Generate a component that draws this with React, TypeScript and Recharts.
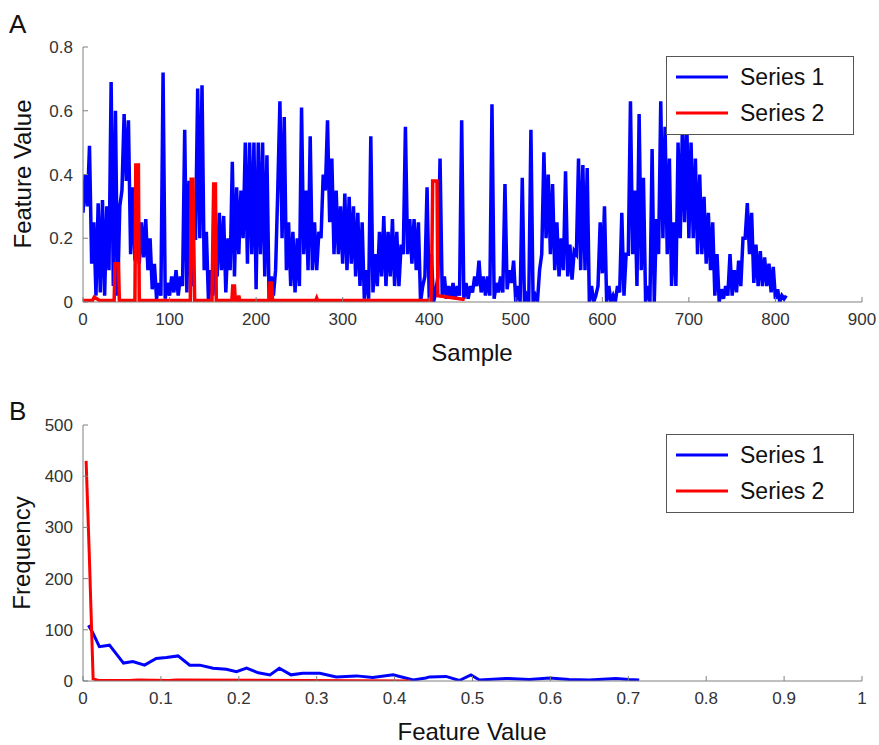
import React from 'react'
import { LineChart, Line, XAxis, YAxis } from 'recharts'

const FONT = '"Liberation Sans", Arial, sans-serif'
const BLUE = '#0000ff'
const RED = '#ff0000'
const AXIS_GREY = '#808080'

// Panel A: series 1 is very dense, so it is read as a low/high band per 5-sample bin
const binSize = 5
const series1Low = [
  0.28, 0.30, 0.12, 0.02, 0.03, 0.02, 0.10, 0.05, 0.02, 0.35, 0.38, 0.15, 0.13, 0.12, 0.14, 0.10,
  0.04, 0.01, 0.02, 0.01, 0.02, 0.03, 0.02, 0.05, 0.03, 0.05, 0.20, 0.20, 0.10, 0.00, 0.02, 0.08,
  0.10, 0.03, 0.10, 0.08, 0.15, 0.20, 0.12, 0.15, 0.04, 0.15, 0.08, 0.01, 0.02, 0.35, 0.20, 0.10,
  0.05, 0.03, 0.05, 0.15, 0.10, 0.10, 0.10, 0.20, 0.35, 0.25, 0.15, 0.15, 0.12, 0.10, 0.12, 0.08,
  0.05, 0.01, 0.01, 0.03, 0.05, 0.08, 0.05, 0.08, 0.05, 0.05, 0.15, 0.15, 0.12, 0.10, 0.00, 0.08,
  0.01, 0.00, 0.08, 0.02, 0.01, 0.01, 0.01, 0.02, 0.01, 0.01, 0.03, 0.05, 0.03, 0.02, 0.02, 0.01,
  0.03, 0.03, 0.04, 0.06, 0.00, 0.00, 0.00, 0.00, 0.00, 0.00, 0.15, 0.20, 0.15, 0.10, 0.08, 0.10,
  0.08, 0.07, 0.15, 0.10, 0.10, 0.00, 0.00, 0.05, 0.09, 0.00, 0.00, 0.00, 0.03, 0.02, 0.15, 0.15,
  0.05, 0.10, 0.00, 0.00, 0.00, 0.15, 0.20, 0.15, 0.05, 0.05, 0.20, 0.25, 0.20, 0.20, 0.15, 0.15,
  0.12, 0.10, 0.02, 0.00, 0.01, 0.02, 0.02, 0.03, 0.05, 0.20, 0.15, 0.06, 0.05, 0.05, 0.05, 0.03,
  0.01, 0.00, 0.01,
]
const series1High = [
  0.40, 0.49, 0.25, 0.31, 0.32, 0.30, 0.69, 0.60, 0.30, 0.59, 0.57, 0.36, 0.22, 0.25, 0.26, 0.20,
  0.12, 0.06, 0.72, 0.06, 0.08, 0.10, 0.08, 0.54, 0.38, 0.20, 0.67, 0.68, 0.22, 0.10, 0.15, 0.28,
  0.27, 0.20, 0.44, 0.36, 0.35, 0.50, 0.50, 0.50, 0.50, 0.50, 0.46, 0.08, 0.10, 0.63, 0.58, 0.25,
  0.22, 0.20, 0.61, 0.35, 0.52, 0.25, 0.22, 0.40, 0.57, 0.45, 0.35, 0.30, 0.34, 0.33, 0.30, 0.28,
  0.25, 0.10, 0.52, 0.15, 0.22, 0.27, 0.22, 0.26, 0.22, 0.18, 0.55, 0.26, 0.26, 0.25, 0.05, 0.36,
  0.15, 0.03, 0.45, 0.08, 0.05, 0.06, 0.05, 0.57, 0.06, 0.05, 0.08, 0.13, 0.08, 0.08, 0.62, 0.06,
  0.08, 0.37, 0.10, 0.13, 0.05, 0.39, 0.02, 0.54, 0.02, 0.10, 0.47, 0.40, 0.37, 0.25, 0.20, 0.41,
  0.18, 0.16, 0.45, 0.43, 0.42, 0.05, 0.02, 0.25, 0.30, 0.05, 0.02, 0.05, 0.28, 0.15, 0.63, 0.35,
  0.59, 0.39, 0.05, 0.48, 0.26, 0.63, 0.55, 0.45, 0.25, 0.50, 0.55, 0.58, 0.50, 0.45, 0.40, 0.33,
  0.28, 0.25, 0.15, 0.04, 0.05, 0.15, 0.10, 0.13, 0.20, 0.31, 0.28, 0.18, 0.16, 0.14, 0.12, 0.11,
  0.04, 0.02, 0.02,
]
const series2Samples = [
  0, 11, 13, 16, 19, 36, 37, 41, 42, 60, 61, 64, 65, 124, 125, 127, 128, 129, 149, 150, 151, 153,
  154, 172, 173, 175, 176, 179, 180, 181, 215, 216, 218, 219, 269, 270, 271, 402, 403, 404, 409, 410, 441,
]
const series2Values = [
  0.005, 0.005, 0.015, 0.01, 0.005, 0.005, 0.12, 0.12, 0.005, 0.005, 0.43, 0.43, 0.005, 0.005, 0.385,
  0.385, 0.18, 0.005, 0.005, 0.2, 0.37, 0.37, 0.005, 0.005, 0.05, 0.05, 0.005, 0.005, 0.02, 0.005,
  0.005, 0.06, 0.06, 0.005, 0.005, 0.012, 0.005, 0.005, 0.12, 0.38, 0.38, 0.02, 0.008,
]
const sampleTicks = [0, 100, 200, 300, 400, 500, 600, 700, 800, 900]
const featureTicks = [0, 0.2, 0.4, 0.6, 0.8]

// Panel B: frequency of feature values
const hist1Bins = [
  0.007, 0.013, 0.021, 0.034, 0.052, 0.064, 0.079, 0.094, 0.107, 0.122, 0.137, 0.15, 0.167, 0.184,
  0.197, 0.21, 0.225, 0.24, 0.252, 0.267, 0.282, 0.304, 0.325, 0.351, 0.372, 0.398, 0.424, 0.44,
  0.445, 0.466, 0.483, 0.498, 0.509, 0.543, 0.573, 0.599, 0.624, 0.65, 0.684, 0.701, 0.714,
]
const hist1Counts = [
  109, 93, 67, 70, 35, 38, 31, 44, 46, 49, 31, 31, 25, 23, 18, 25, 16, 12, 25, 12, 15, 15, 8, 10, 7,
  12, 2, 6, 8, 9, 1, 12, 2, 5, 3, 6, 3, 2, 5, 3, 2,
]
const hist2Bins = [0.004, 0.008, 0.013, 0.02, 0.06, 0.07, 0.11, 0.12, 0.42]
const hist2Counts = [430, 250, 4, 1, 1, 2, 1, 2, 0]
const valueTicks = [0, 0.1, 0.2, 0.3, 0.4, 0.5, 0.6, 0.7, 0.8, 0.9, 1]
const freqTicks = [0, 100, 200, 300, 400, 500]

// each bin becomes a low point then a high point, so dense stretches fill in like the original trace
const seriesA1 = series1Low.flatMap((lo, i) => [
  { x: i * binSize, y: lo },
  { x: i * binSize + binSize / 2, y: series1High[i] },
])
const seriesA2 = series2Samples.map((x, i) => ({ x, y: series2Values[i] }))
const seriesB1 = hist1Bins.map((x, i) => ({ x, y: hist1Counts[i] }))
const seriesB2 = hist2Bins.map((x, i) => ({ x, y: hist2Counts[i] }))

const tickStyle = { fill: '#333', fontSize: 17, fontFamily: FONT }
const axisProps = {
  axisLine: { stroke: AXIS_GREY, strokeWidth: 1 },
  tickLine: { stroke: AXIS_GREY },
  tick: tickStyle,
  tickSize: -5,
  interval: 0 as const,
}

function LegendBox({ top }: { top: number }) {
  return (
    <div style={{ position: 'absolute', left: 666, top, width: 188, height: 79, boxSizing: 'border-box', border: '1.5px solid #555', background: '#fff' }}>
      <svg width={185} height={76} style={{ display: 'block' }}>
        <line x1={9} x2={61} y1={20} y2={20} stroke={BLUE} strokeWidth={3} />
        <text x={73} y={28} fontSize={23} fontFamily={FONT} fill="#111">Series 1</text>
        <line x1={9} x2={61} y1={56} y2={56} stroke={RED} strokeWidth={3} />
        <text x={73} y={64} fontSize={23} fontFamily={FONT} fill="#111">Series 2</text>
      </svg>
    </div>
  )
}

export default function App() {
  return (
    <div style={{ position: 'absolute', left: 0, top: 0, width: 879, height: 745, background: '#fff', fontFamily: FONT }}>
      <div style={{ position: 'absolute', left: 0, top: 0 }}>
        <LineChart width={879} height={372} margin={{ top: 47, right: 17, bottom: 40, left: 23 }}>
          <XAxis type="number" dataKey="x" domain={[0, 900]} ticks={sampleTicks} allowDataOverflow height={30} tickMargin={16} {...axisProps} />
          <YAxis type="number" dataKey="y" domain={[0, 0.8]} ticks={featureTicks} allowDataOverflow width={60} tickMargin={15} {...axisProps} />
          <Line data={seriesA1} dataKey="y" type="linear" stroke={BLUE} strokeWidth={3.5} strokeLinejoin="miter" dot={false} isAnimationActive={false} />
          <Line data={seriesA2} dataKey="y" type="linear" stroke={RED} strokeWidth={3.5} dot={false} isAnimationActive={false} />
        </LineChart>
      </div>
      <div style={{ position: 'absolute', left: 0, top: 380 }}>
        <LineChart width={879} height={365} margin={{ top: 45, right: 17, bottom: 34, left: 23 }}>
          <XAxis type="number" dataKey="x" domain={[0, 1]} ticks={valueTicks} allowDataOverflow height={30} tickMargin={16} {...axisProps} />
          <YAxis type="number" dataKey="y" domain={[0, 500]} ticks={freqTicks} allowDataOverflow width={60} tickMargin={15} {...axisProps} />
          <Line data={seriesB1} dataKey="y" type="linear" stroke={BLUE} strokeWidth={3} dot={false} isAnimationActive={false} />
          <Line data={seriesB2} dataKey="y" type="linear" stroke={RED} strokeWidth={3} dot={false} isAnimationActive={false} />
        </LineChart>
      </div>
      <svg width={879} height={745} style={{ position: 'absolute', left: 0, top: 0, pointerEvents: 'none' }}>
        <g fontFamily={FONT} fill="#111">
          <text x={9} y={33} fontSize={26}>A</text>
          <text x={9} y={420} fontSize={26}>B</text>
          <text x={472} y={361} fontSize={24} textAnchor="middle">Sample</text>
          <text x={472} y={740} fontSize={24} textAnchor="middle">Feature Value</text>
          <text transform="translate(31,174) rotate(-90)" fontSize={24} textAnchor="middle">Feature Value</text>
          <text transform="translate(30,553) rotate(-90)" fontSize={24} textAnchor="middle">Frequency</text>
        </g>
      </svg>
      <LegendBox top={56} />
      <LegendBox top={434} />
    </div>
  )
}
